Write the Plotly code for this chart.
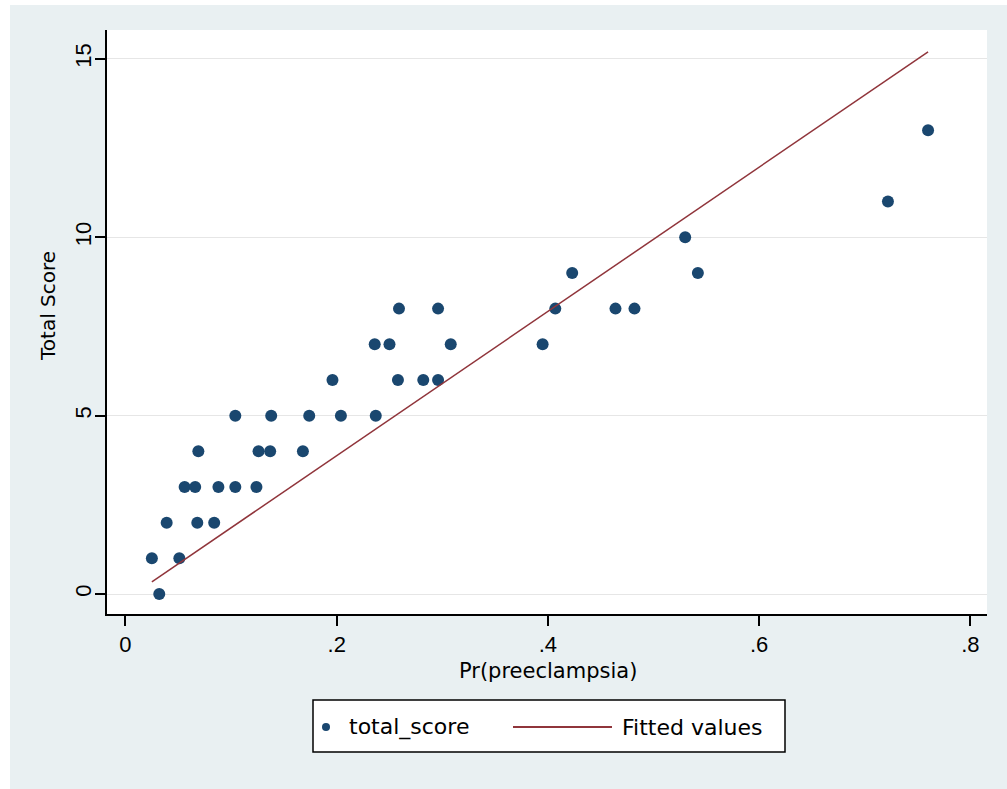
import plotly.graph_objects as go

# ---------------- data ----------------
pr_preeclampsia = [0.025, 0.032, 0.039, 0.051, 0.056, 0.066, 0.069, 0.068, 0.084, 0.088,
                   0.104, 0.104, 0.124, 0.126, 0.137, 0.138, 0.168, 0.174, 0.196, 0.204,
                   0.237, 0.236, 0.250, 0.258, 0.259, 0.282, 0.296, 0.296, 0.308, 0.395,
                   0.407, 0.423, 0.464, 0.482, 0.530, 0.542, 0.722, 0.760]
total_score = [1, 0, 2, 1, 3, 3, 4, 2, 2, 3,
               3, 5, 3, 4, 4, 5, 4, 5, 6, 5,
               5, 7, 7, 6, 8, 6, 8, 6, 7, 7,
               8, 9, 8, 8, 10, 9, 11, 13]
fit_x = [0.025, 0.760]
fit_y = [0.34, 15.20]

x_tickvals = [0, 0.2, 0.4, 0.6, 0.8]
x_ticktext = ["0", ".2", ".4", ".6", ".8"]
y_tickvals = [0, 5, 10, 15]
y_ticktext = ["0", "5", "10", "15"]

x_title = "Pr(preeclampsia)"
y_title = "Total Score"
legend_labels = ["total_score", "Fitted values"]

# ---------------- styling ----------------
W, H = 1007, 789
L, R, T, B = 107, 20, 30, 175
PW, PH = W - L - R, H - T - B
NAVY = "#1a476f"
MAROON = "#90353b"
BG = "#e9f0f2"
TICKFONT = dict(family="Liberation Sans, Arial, sans-serif", size=22, color="black")
TITLEFONT = dict(family="DejaVu Sans, sans-serif", size=21, color="black")
LEGFONT = dict(family="DejaVu Sans, sans-serif", size=22, color="black")


def px(xp):
    return (xp - L) / PW


def py(yp):
    return (H - B - yp) / PH


fig = go.Figure()
fig.add_trace(go.Scatter(x=pr_preeclampsia, y=total_score, mode="markers",
                         name=legend_labels[0],
                         marker=dict(color=NAVY, size=12, symbol="circle",
                                     line=dict(width=0)),
                         showlegend=False, cliponaxis=False))
fig.add_trace(go.Scatter(x=fit_x, y=fit_y, mode="lines", name=legend_labels[1],
                         line=dict(color=MAROON, width=1.5), showlegend=False))

shapes = [
    # white outer strips (top, left)
    dict(type="rect", xref="paper", yref="paper", x0=px(0), x1=px(W), y0=py(5), y1=py(0),
         fillcolor="white", line=dict(width=0), layer="below"),
    dict(type="rect", xref="paper", yref="paper", x0=px(0), x1=px(10), y0=py(H), y1=py(0),
         fillcolor="white", line=dict(width=0), layer="below"),
    # legend box
    dict(type="rect", xref="paper", yref="paper", x0=px(313), x1=px(785), y0=py(752), y1=py(700),
         fillcolor="white", line=dict(color="black", width=1.5)),
    # legend line sample
    dict(type="line", xref="paper", yref="paper", x0=px(513), x1=px(612), y0=py(727), y1=py(727),
         line=dict(color=MAROON, width=2)),
    # legend marker sample
    dict(type="circle", xref="paper", yref="paper", x0=px(322), x1=px(330), y0=py(731), y1=py(723),
         fillcolor=NAVY, line=dict(width=0)),
]

annotations = [
    dict(text=x_title, xref="paper", yref="paper", x=px(548), y=py(671),
         xanchor="center", yanchor="middle", showarrow=False, font=TITLEFONT),
    dict(text=y_title, xref="paper", yref="paper", x=px(48), y=py(306),
         xanchor="center", yanchor="middle", showarrow=False, textangle=-90,
         font=dict(family="DejaVu Sans, sans-serif", size=20, color="black")),
    dict(text=legend_labels[0], xref="paper", yref="paper", x=px(347), y=py(727),
         xanchor="left", yanchor="middle", showarrow=False, font=LEGFONT),
    dict(text=legend_labels[1], xref="paper", yref="paper", x=px(620), y=py(727),
         xanchor="left", yanchor="middle", showarrow=False, font=LEGFONT),
]

fig.update_layout(
    width=W, height=H,
    margin=dict(l=L, r=R, t=T, b=B, pad=0),
    paper_bgcolor=BG, plot_bgcolor="white",
    showlegend=False,
    shapes=shapes, annotations=annotations,
    xaxis=dict(range=[-0.0175, 0.8158], tickvals=x_tickvals, ticktext=x_ticktext,
               showgrid=False, zeroline=False, showline=True, linecolor="black", linewidth=2,
               ticks="outside", ticklen=10, tickwidth=2, tickcolor="black",
               tickfont=TICKFONT),
    yaxis=dict(range=[-0.56, 15.81], tickvals=y_tickvals, ticktext=y_ticktext,
               showgrid=True, gridcolor="#e6e6e6", gridwidth=1, zeroline=False,
               showline=True, linecolor="black", linewidth=2,
               ticks="outside", ticklen=10, tickwidth=2, tickcolor="black",
               tickangle=-90, tickfont=TICKFONT, ticklabelstandoff=-5),
)

fig.write_html("out.html", config={"displayModeBar": False},
               post_script="document.body.style.margin='0';document.body.style.overflow='hidden';")
